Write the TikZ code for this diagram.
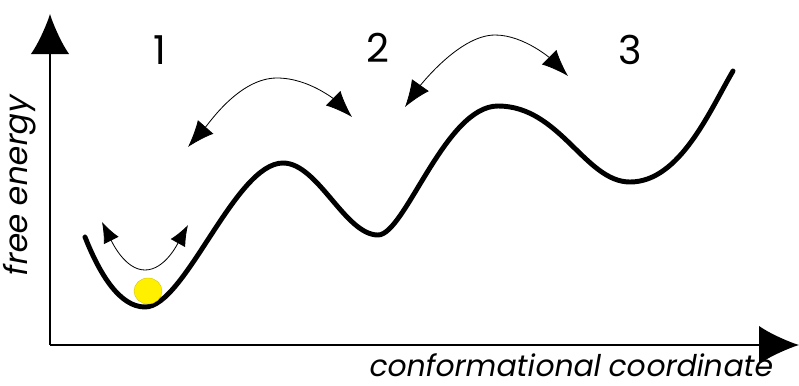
\documentclass[tikz,border=0pt]{standalone}
\usepackage{fontspec}
\setsansfont{Poppins}[FakeSlant=0.18]
\newfontfamily\digitfont{Poppins}
\usetikzlibrary{arrows.meta}

\begin{document}
\begin{tikzpicture}[x=0.03cm,y=-0.03cm,font=\sffamily]
\definecolor{ball}{RGB}{255,240,0}
\tikzset{
  hop/.style={line width=0.7pt,
    {Latex[length=0.8cm,width=0.62cm]}-{Latex[length=0.8cm,width=0.62cm]}},
  wobble/.style={line width=0.7pt,
    {Latex[length=0.62cm,width=0.5cm]}-{Latex[length=0.62cm,width=0.5cm]}},
  axis/.style={line width=1.6pt,-{Latex[length=1.2cm,width=1.15cm]}},
  well/.style={font=\digitfont\fontsize{34}{34}\selectfont}
}
\useasboundingbox (0,0) rectangle (799,385);

% Axes with big filled heads.
\coordinate (O) at (50,345);
\coordinate (Ytop) at (50,14);
\coordinate (Xend) at (799,345);
\draw[axis] (O)--(Ytop);
\draw[axis] (O)--(Xend);
\node[rotate=90,font=\sffamily\fontsize{27}{27}\selectfont] (ylab) at (20,187) {free energy};
\node[anchor=base,inner sep=0pt,font=\sffamily\fontsize{25.5}{25.5}\selectfont]
  (xlab) at (570,376) {conformational coordinate};

% Free energy landscape, flat tangents at every extremum.
\draw[line width=4.2pt,line cap=round]
  (85,237) .. controls (100,275) and (120,307) .. (145,307)
  .. controls (185,307) and (235,163) .. (283,163)
  .. controls (318,163) and (345,235) .. (378,235)
  .. controls (405,235) and (445,106) .. (498,106)
  .. controls (560,106) and (585,182) .. (630,182)
  .. controls (680,182) and (710,110) .. (733,71);

% Ball sitting in the deepest well.
\fill[ball,draw=ball!80!black,line width=0.3pt] (148,291) ellipse (14 and 13);

% Well labels.
\node[well] (w1) at (160,50) {1};
\node[well] (w2) at (378,48) {2};
\node[well] (w3) at (630,50) {3};

% Transitions between wells.
\coordinate (a1) at (102,222);
\coordinate (a2) at (188,225);
\draw[wobble] (a1) .. controls (112,242) and (125,270) .. (145,270)
  .. controls (165,270) and (178,243) .. (a2);
\coordinate (b1) at (188,147);
\coordinate (b2) at (352,117);
\draw[hop] (b1) .. controls (210,122) and (240,78) .. (277,78)
  .. controls (310,78) and (337,102) .. (b2);
\coordinate (c1) at (405,107);
\coordinate (c2) at (568,76);
\draw[hop] (c1) .. controls (417,90) and (458,35) .. (495,35)
  .. controls (525,35) and (553,61) .. (c2);

\end{tikzpicture}
\end{document}
